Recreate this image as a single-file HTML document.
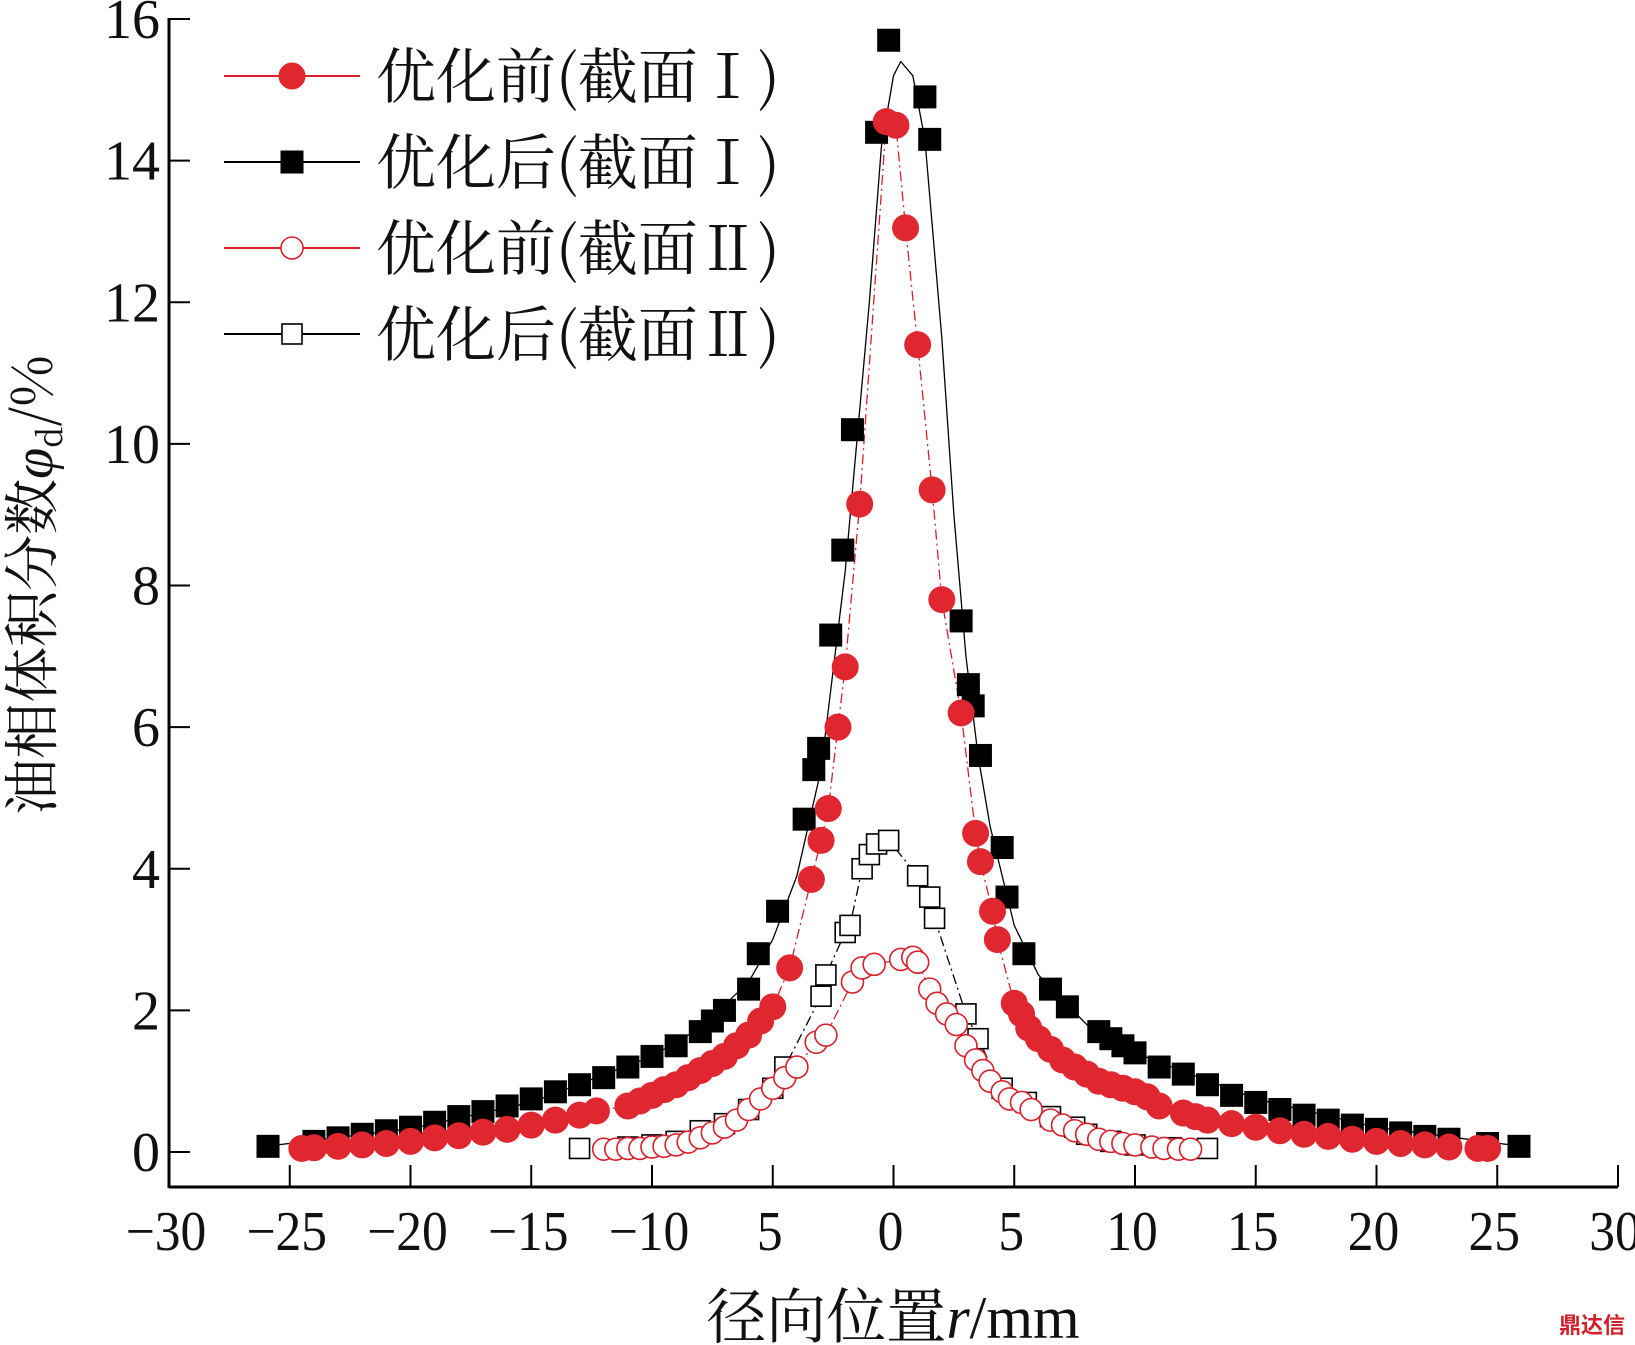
<!DOCTYPE html>
<html><head><meta charset="utf-8"><style>
html,body{margin:0;padding:0;background:#fff;}
svg{display:block;font-family:"Liberation Serif","Noto Serif CJK SC",serif;}
</style></head><body>
<svg id="chart" width="1635" height="1345" viewBox="0 0 1635 1345" xmlns="http://www.w3.org/2000/svg">
<g id="axes"></g>
<g id="plot"></g>
<g id="legend"></g>
<text transform="translate(52,585) rotate(-90)" text-anchor="middle" font-size="56" fill="#111" font-family="'Noto Serif CJK SC','Liberation Serif',serif">油相体积分数<tspan font-style="italic" font-family="'Liberation Serif',serif">φ</tspan><tspan font-size="34" dy="10">d</tspan><tspan dy="-10">/%</tspan></text>
<text x="893" y="1338" text-anchor="middle" font-size="60" fill="#111" font-family="'Noto Serif CJK SC','Liberation Serif',serif">径向位置<tspan font-style="italic" font-family="'Liberation Serif',serif">r</tspan><tspan font-family="'Liberation Serif',serif">/mm</tspan></text>
<text x="1625" y="1333" text-anchor="end" font-size="22" font-weight="bold" fill="#d0202a" font-family="'Noto Sans CJK SC',sans-serif">鼎达信</text>
</svg>
<script>
const xTicks=[-30,-25,-20,-15,-10,-5,0,5,10,15,20,25,30];
const xTickLabels=["−30","−25","−20","−15","−10","5","0","5","10","15","20","25","30"];
const yTicks=[0,2,4,6,8,10,12,14,16];
const beforeIx=[-24.5,-24,-23,-22,-21,-20,-19,-18,-17,-16,-15,-14,-13,-12.3,-11,-10.5,-10,-9.5,-9,-8.5,-8,-7.5,-7,-6.5,-6,-5.5,-5,-4.3,-3.4,-3,-2.7,-2.3,-2,-1.4,-0.3,0.1,0.5,1,1.6,2,2.8,3.4,3.6,4.1,4.3,5,5.3,5.6,6,6.5,7,7.5,8,8.5,9,9.5,10,10.5,11,12,12.5,13,14,15,16,17,18,19,20,21,22,23,24.2,24.6];
const beforeIy=[0.05,0.06,0.08,0.1,0.12,0.15,0.2,0.23,0.28,0.32,0.38,0.45,0.52,0.58,0.65,0.72,0.8,0.88,0.95,1.05,1.15,1.25,1.35,1.5,1.65,1.85,2.05,2.6,3.85,4.4,4.85,6.0,6.85,9.15,14.55,14.5,13.05,11.4,9.35,7.8,6.2,4.5,4.1,3.4,3.0,2.1,1.95,1.75,1.6,1.45,1.3,1.2,1.1,1.0,0.95,0.9,0.85,0.78,0.65,0.55,0.5,0.45,0.4,0.35,0.3,0.25,0.22,0.18,0.15,0.12,0.1,0.07,0.05,0.05];
const afterIx=[-25.9,-24,-23,-22,-21,-20,-19,-18,-17,-16,-15,-14,-13,-12,-11,-10,-9,-8,-7.5,-7,-6,-5.6,-4.8,-3.7,-3.3,-3.1,-2.6,-2.1,-1.7,-0.7,-0.2,1.3,1.5,2.8,3.1,3.3,3.6,4.5,4.7,5.4,6.5,7.2,8.5,9,9.5,10,11,12,13,14,15,16,17,18,19,20,21,22,23,24.6,25.9];
const afterIy=[0.08,0.15,0.2,0.25,0.3,0.35,0.42,0.5,0.57,0.65,0.75,0.85,0.95,1.05,1.2,1.35,1.5,1.7,1.85,2.0,2.3,2.8,3.4,4.7,5.4,5.7,7.3,8.5,10.2,14.4,15.7,14.9,14.3,7.5,6.6,6.3,5.6,4.3,3.6,2.8,2.3,2.05,1.7,1.6,1.5,1.4,1.2,1.1,0.95,0.8,0.7,0.6,0.52,0.45,0.38,0.32,0.27,0.22,0.18,0.12,0.08];
const afterIFitX=[-26,-20,-15,-10,-8,-6,-5,-4,-3,-2,-1,-0.5,0,0.3,0.8,1.3,2,2.5,3,3.5,4,5,6,8,10,15,20,26];
const afterIFitY=[0.08,0.33,0.7,1.35,1.75,2.4,3.0,3.9,5.4,8.2,12.0,14.2,15.2,15.4,15.2,14.3,11.5,9.0,7.0,5.6,4.6,3.2,2.5,1.8,1.4,0.75,0.35,0.08];
const beforeIIx=[-12,-11.5,-11,-10.5,-10,-9.5,-9,-8.5,-8,-7.5,-7,-6.5,-6,-5.5,-5,-4.5,-4,-3.2,-2.8,-1.7,-1.3,-0.8,0.3,0.8,1,1.5,1.8,2.2,2.6,3.0,3.4,3.7,4,4.5,4.8,5.3,5.7,6.5,7,7.5,8,8.5,9,9.5,10,10.7,11.2,11.8,12.3];
const beforeIIy=[0.04,0.04,0.05,0.05,0.07,0.08,0.1,0.14,0.2,0.27,0.35,0.45,0.6,0.75,0.9,1.05,1.2,1.55,1.65,2.4,2.6,2.65,2.72,2.75,2.68,2.3,2.1,1.95,1.8,1.5,1.3,1.15,1.0,0.85,0.75,0.7,0.6,0.45,0.38,0.3,0.25,0.18,0.15,0.12,0.1,0.07,0.05,0.04,0.04];
const afterIIx=[-13,-11,-10,-9,-8,-7,-6,-5,-4.5,-3,-2.8,-2,-1.8,-1.3,-1.0,-0.7,-0.2,1,1.5,1.7,3,3.5,4.5,5.5,6.5,7.5,8,9,10,11.5,13];
const afterIIy=[0.05,0.07,0.1,0.15,0.3,0.4,0.6,0.9,1.2,2.2,2.5,3.1,3.2,4.0,4.2,4.35,4.4,3.9,3.6,3.3,1.95,1.6,0.9,0.7,0.5,0.35,0.25,0.15,0.1,0.06,0.05];

const NS="http://www.w3.org/2000/svg";
const X0=169,X1=1618,Y0=1152,Y16=19;
const xs=v=>X0+(v+30)/60*(X1-X0);
const ys=v=>Y0-(v/16)*(Y0-Y16);
function mk(tag,attrs,parent){const e=document.createElementNS(NS,tag);for(const k in attrs)e.setAttribute(k,attrs[k]);parent.appendChild(e);return e;}
const axes=document.getElementById('axes'),plot=document.getElementById('plot'),leg=document.getElementById('legend');
const AB=1187;
let l=mk('line',{x1:X0,y1:AB,x2:X1,y2:AB,stroke:'#000','stroke-width':3},axes);

l=mk('line',{x1:X0,y1:Y16-1,x2:X0,y2:AB+1,stroke:'#000','stroke-width':3},axes);

xTicks.forEach((t,i)=>{
  const x=xs(t);
  const tk=mk('line',{x1:x,y1:AB,x2:x,y2:AB-22,stroke:'#000','stroke-width':2},axes);
  
  const tx=mk('text',{x:x-3,y:1250,'text-anchor':'middle','font-size':56,fill:'#111',transform:`translate(${x-3},0) scale(0.92,1) translate(${-(x-3)},0)`},axes);
  tx.textContent=xTickLabels[i];
  
});
yTicks.forEach(t=>{
  const y=ys(t);
  const tk=mk('line',{x1:X0,y1:y,x2:X0+21,y2:y,stroke:'#000','stroke-width':2},axes);
  
  const tx=mk('text',{x:X0-9,y:y+19,'text-anchor':'end','font-size':56,fill:'#111'},axes);
  tx.textContent=String(t);
  
});
function line(xa,ya,color,dash,name){
  const pts=xa.map((x,i)=>xs(x)+','+ys(ya[i])).join(' ');
  const p=mk('polyline',{points:pts,fill:'none',stroke:color,'stroke-width':1.3,'stroke-dasharray':dash,'stroke-linejoin':'round'},plot);
  
}
function marker(g,x,y,type){
  if(type==='fc') return mk('circle',{cx:x,cy:y,r:13.5,fill:'#e0262f'},g);
  if(type==='oc') return mk('circle',{cx:x,cy:y,r:11,fill:'#fff',stroke:'#d8202a','stroke-width':1.6},g);
  if(type==='fs') return mk('rect',{x:x-11.5,y:y-11.5,width:23,height:23,fill:'#000'},g);
  return mk('rect',{x:x-10,y:y-10,width:20,height:20,fill:'#fff',stroke:'#000','stroke-width':1.6},g);
}
function series(xa,ya,type,name){
  const g=mk('g',{},plot);
  xa.forEach((x,i)=>{const m=marker(g,xs(x),ys(ya[i]),type);
    });
}
line(afterIFitX,afterIFitY,'#000','none','after-I-fit-line');
line(beforeIx,beforeIy,'#d8202a','10 4 2 4','before-I-line');
line(afterIIx,afterIIy,'#000','10 4 2 4','after-II-line');
line(beforeIIx,beforeIIy,'#d8202a','10 4 2 4','before-II-line');
series(afterIIx,afterIIy,'os','after-II');
series(afterIx,afterIy,'fs','after-I');
series(beforeIx,beforeIy,'fc','before-I');
series(beforeIIx,beforeIIy,'oc','before-II');
const items=[['fc','#d8202a','优化前(截面Ⅰ)'],['fs','#000','优化后(截面Ⅰ)'],['oc','#d8202a','优化前(截面Ⅱ)'],['os','#000','优化后(截面Ⅱ)']];
const LY=[76,162,248,334];
items.forEach((it,i)=>{
  const g=mk('g',{},leg);
  mk('line',{x1:224,y1:LY[i],x2:360,y2:LY[i],stroke:it[1],'stroke-width':2},g);
  marker(g,292,LY[i],it[0]);
  const t=mk('text',{x:376,y:LY[i]+22,'font-size':60,fill:'#111','font-family':"'Noto Serif CJK SC','Liberation Serif',serif"},g);
  t.textContent=it[2];
});
</script>
</body></html>
